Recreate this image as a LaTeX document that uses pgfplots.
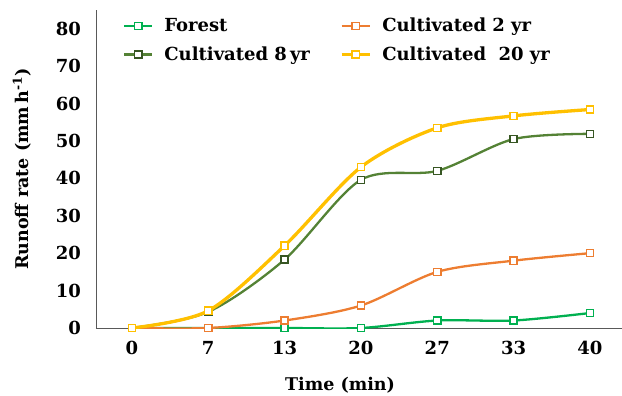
\documentclass[border=0pt]{standalone}
\usepackage{pgfplots}
\pgfplotsset{compat=1.18}
\usepackage{fontspec}
\setmainfont{DejaVu Serif}
\definecolor{cForest}{HTML}{00B050}
\definecolor{cTwo}{HTML}{ED7D31}
\definecolor{cEight}{HTML}{548235}
\definecolor{cEightM}{HTML}{375623}
\definecolor{cTwenty}{HTML}{FFC000}
\definecolor{axgray}{HTML}{595959}
\begin{document}
\fontsize{18bp}{21bp}\selectfont\bfseries
\begin{tikzpicture}
\useasboundingbox (-96bp,-68bp) rectangle (526bp,328bp);
\begin{axis}[
  at={(0,0)}, anchor=south west,
  scale only axis,
  width=526bp, height=318bp,
  xmin=-0.47, xmax=6.42,
  ymin=0, ymax=85,
  axis lines=left,
  axis line style={axgray, line width=0.8pt, -},
  xtick={0,...,6},
  xticklabels={0,7,13,20,27,33,40},
  ytick={0,10,...,80},
  major tick length=0pt,
  /pgf/number format/assume math mode=true,
  ticklabel style={font=\fontsize{18bp}{21bp}\selectfont\bfseries},
  xticklabel style={yshift=-7bp},
  yticklabel style={xshift=-9bp},
  xlabel={Time (min)},
  ylabel={Runoff rate (mm\hspace{0.2em}h\textsuperscript{-1})},
  label style={font=\fontsize{17.5bp}{21bp}\selectfont\bfseries},
  xlabel style={at={(axis description cs:0.464,-0.179)}, anchor=center},
  ylabel style={at={(axis description cs:-0.141,0.5)}, anchor=center},
  legend columns=2,
  legend style={at={(axis description cs:0.0454,0.988)}, anchor=north west,
    draw=none, fill=none, font=\fontsize{18bp}{21bp}\selectfont\bfseries,
    row sep=8bp,
    /tikz/every odd column/.append style={column sep=9bp},
    /tikz/every even column/.append style={column sep=28bp}},
  legend cell align=left,
  legend image code/.code={\draw[mark repeat=2,mark phase=2,#1] plot coordinates {(0bp,0bp) (14bp,0bp) (28bp,0bp)};},
  every axis plot/.append style={smooth, mark=square*, mark size=3.6bp},
]
\addplot[cForest, line width=2.3bp, mark options={fill=white, line width=1.4bp, draw=cForest}]
  coordinates {(0,0) (1,0) (2,0) (3,0) (4,2) (5,2) (6,4)};
\addlegendentry{Forest}
\addplot[cTwo, line width=2.3bp, mark options={fill=white, line width=1.4bp, draw=cTwo}]
  coordinates {(0,0) (1,0) (2,2) (3,6) (4,15) (5,18) (6,20)};
\addlegendentry{Cultivated 2 yr}
\addplot[cEight, line width=2.3bp, mark options={fill=white, line width=1.4bp, draw=cEightM}]
  coordinates {(0,0) (1,4.3) (2,18.3) (3,39.6) (4,42) (5,50.5) (6,51.9)};
\addlegendentry{Cultivated 8\,yr}
\addplot[cTwenty, line width=3.3bp, mark options={fill=white, line width=1.4bp, draw=cTwenty}]
  coordinates {(0,0) (1,4.6) (2,22) (3,43) (4,53.5) (5,56.7) (6,58.4)};
\addlegendentry{Cultivated \ 20 yr}
\end{axis}
\end{tikzpicture}
\end{document}
